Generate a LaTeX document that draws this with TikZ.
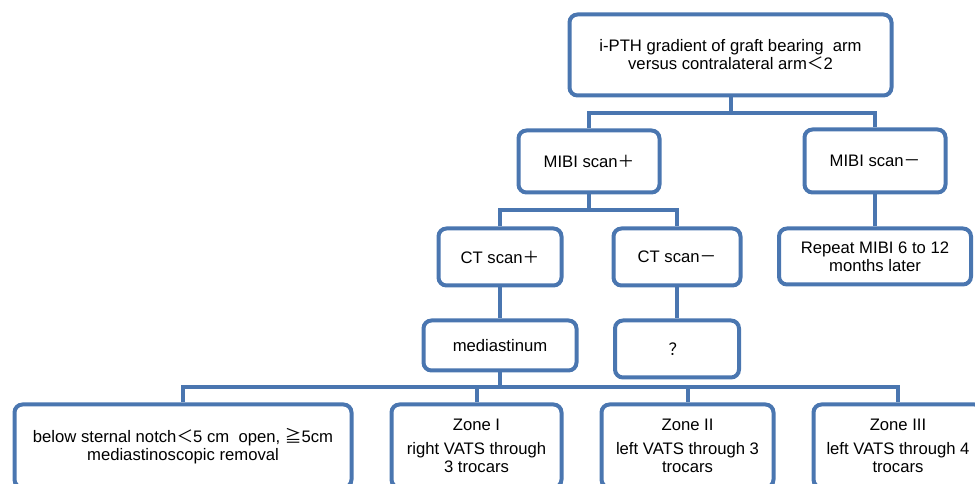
\documentclass[tikz,border=0pt]{standalone}
\usepackage{fontspec}
\setmainfont{Liberation Sans}
\newfontfamily\cjk{Noto Sans CJK SC}
\usetikzlibrary{positioning}
\definecolor{boxblue}{RGB}{74,118,176}

\begin{document}
\begin{tikzpicture}[x=0.75pt, y=-0.75pt,
        step_box/.style={rectangle, rounded corners=6pt, draw=boxblue, line width=3pt, fill=white, align=center, inner sep=0pt, font=\fontsize{12.5}{13.5}\selectfont},
        link/.style={draw=boxblue, line width=3pt}
        ]
            \useasboundingbox (0,0) rectangle (975,484);
            \clip (0,0) rectangle (975,484);

            % first levels
            \node[step_box, minimum width=241.5pt, minimum height=60.75pt] (root) at (730.5,55) {i-PTH gradient of graft bearing\ \ arm\\versus contralateral arm{\cjk ＜}2};
            \node[step_box, minimum width=105.75pt, minimum height=46.5pt] (mibi_pos) at (589,161.5) {MIBI scan{\cjk ＋}};
            \node[step_box, minimum width=105.75pt, minimum height=47.25pt] (mibi_neg) at (875,161) {MIBI scan{\cjk －}};
            % second levels
            \node[step_box, minimum width=92.25pt, minimum height=42.75pt] (ct_pos) at (500,257) {CT scan{\cjk ＋}};
            \node[step_box, minimum width=95.25pt, minimum height=42.75pt] (ct_neg) at (677,257) {CT scan{\cjk －}};
            \node[step_box, minimum width=144pt, minimum height=42pt] (repeat_mibi) at (875,256.5) {Repeat MIBI 6 to 12\\months later};
            \node[step_box, minimum width=114.75pt, minimum height=37.5pt] (medi) at (500,345.5) {mediastinum};
            \node[step_box, minimum width=93pt, minimum height=42.75pt] (unknown) at (677,349) {{\cjk ？}};
            % surgery
            \node[step_box, minimum width=252.75pt, minimum height=62.25pt] (zone_0) at (183,446) {below sternal notch{\cjk ＜}5 cm\ \ open, {\cjk ≧}5cm\\mediastinoscopic removal};
            \node[step_box, minimum width=127.5pt, minimum height=62.25pt] (zone_1) at (476.5,446) {Zone I\\[4.5pt]right VATS through\\3 trocars};
            \node[step_box, minimum width=129pt, minimum height=62.25pt] (zone_2) at (687.5,446) {Zone II\\[4.5pt]left VATS through 3\\trocars};
            \node[step_box, minimum width=126.75pt, minimum height=62.25pt] (zone_3) at (898,446) {Zone III\\[4.5pt]left VATS through 4\\trocars};

            % Lines
            \draw[link] (root.south) -- ++(0,16) -| (mibi_pos.north);
            \draw[link] (root.south) -- ++(0,16) -| (mibi_neg.north);
            \draw[link] (mibi_pos.south) -- ++(0,16) -| (ct_pos.north);
            \draw[link] (mibi_pos.south) -- ++(0,16) -| (ct_neg.north);
            \draw[link] (mibi_neg) -- (repeat_mibi);
            \draw[link] (ct_pos) -- (medi);
            \draw[link] (ct_neg) -- (unknown);
            \draw[link] (medi.south) -- ++(0,15) -| (zone_0.north);
            \draw[link] (medi.south) -- ++(0,15) -| (zone_1.north);
            \draw[link] (medi.south) -- ++(0,15) -| (zone_2.north);
            \draw[link] (medi.south) -- ++(0,15) -| (zone_3.north);
        \end{tikzpicture}
\end{document}
